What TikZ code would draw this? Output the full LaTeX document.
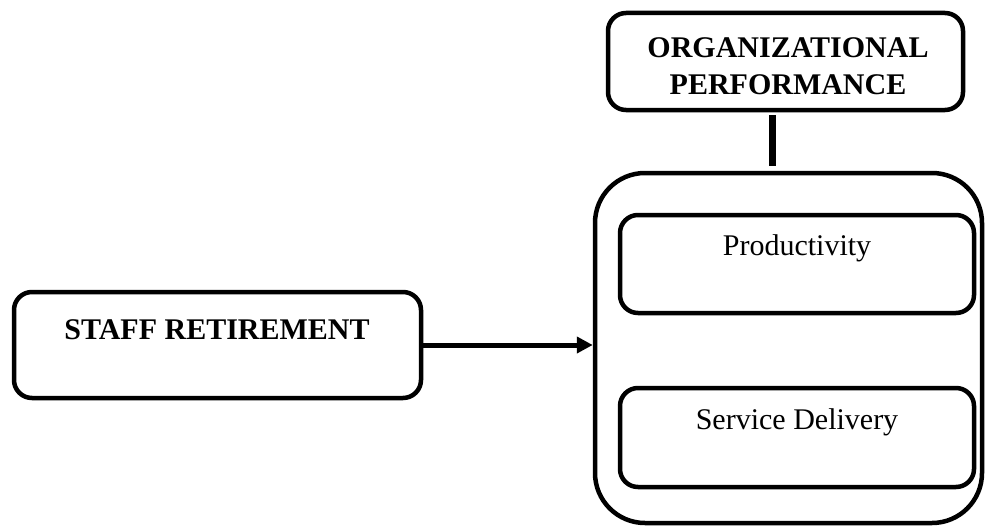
\documentclass[tikz,border=0pt]{standalone}
\usepackage{fontspec}
\setmainfont{Liberation Serif}
\usetikzlibrary{arrows.meta}
\begin{document}
\begin{tikzpicture}[x=1pt,y=-1pt,
  box/.style={draw=black, line width=4.5pt, rounded corners=18pt, fill=none, inner sep=0pt},
  bigbox/.style={draw=black, line width=4.5pt, rounded corners=50pt, inner sep=0pt},
  lbl/.style={font=\fontsize{30}{37}\selectfont, align=center, inner sep=0pt},
  blbl/.style={lbl, font=\fontsize{30}{37}\selectfont\bfseries},
  conn/.style={line width=5pt}
]
\useasboundingbox (0,0) rectangle (987,527);
% boxes
\node[box, minimum width=407pt, minimum height=106pt] (staff) at (217.5,345) {};
\node[blbl] (stafft) at (217,330) {STAFF RETIREMENT};
\node[box, minimum width=355pt, minimum height=97pt] (org) at (785.5,61.5) {};
\node[blbl] (orgt) at (788,66.5) {ORGANIZATIONAL\\PERFORMANCE};
\node[bigbox, minimum width=387pt, minimum height=350pt] (big) at (788.5,348) {};
\node[box, minimum width=354pt, minimum height=98pt] (prod) at (797,264) {};
\node[lbl] (prodt) at (797,248) {Productivity};
\node[box, minimum width=354pt, minimum height=99pt] (serv) at (797,437.5) {};
\node[lbl] (servt) at (797,422) {Service Delivery};
% connectors
\coordinate (vx) at (772,0);
\draw[conn, line width=7pt, shorten <=3pt, shorten >=5pt] (org.south -| vx) -- (big.north -| vx);
\draw[conn, -{Triangle[length=16pt,width=16pt]}] (staff.east) -- (staff.east -| big.west);
\end{tikzpicture}
\end{document}
